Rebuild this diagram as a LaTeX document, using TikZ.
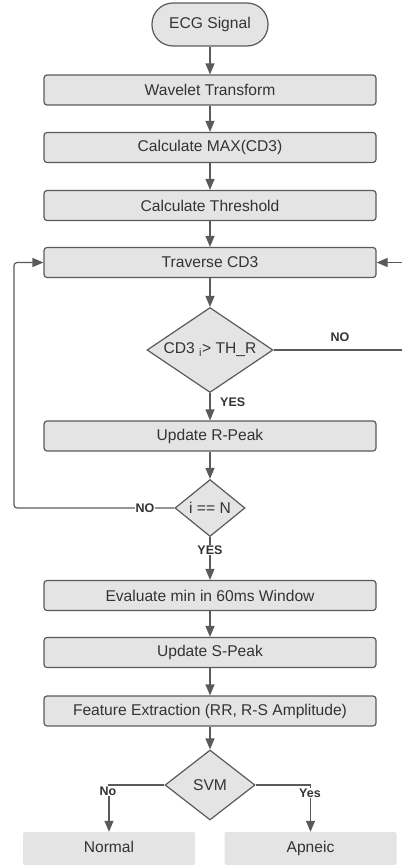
\documentclass[tikz,border=0pt]{standalone}
\usepackage{fontspec}
\setmainfont{Liberation Sans}
\usetikzlibrary{arrows.meta,shapes.geometric}
\definecolor{boxfill}{HTML}{E4E4E4}
\definecolor{boxline}{HTML}{5A5A5A}
\definecolor{txt}{HTML}{333333}

\begin{document}
\begin{tikzpicture}[x=1pt,y=-1pt,
    >={Triangle[width=9pt,length=11pt]},
    txtfont/.style={text=txt,font=\fontsize{15.6}{18}\selectfont},
    box/.style={draw=boxline,fill=boxfill,line width=1.2pt,rounded corners=3pt,
        minimum width=332pt,minimum height=30pt,inner sep=0pt,txtfont},
    term/.style={box,rounded corners=21pt,minimum width=116pt,minimum height=43pt},
    cond/.style={diamond,draw=boxline,fill=boxfill,line width=1.2pt,inner sep=0pt,txtfont},
    leaf/.style={fill=boxfill,rounded corners=2pt,minimum width=172pt,minimum height=33pt,
        inner sep=0pt,text height=11pt,text depth=3pt,txtfont},
    lbl/.style={text=txt,inner sep=1pt,font=\bfseries\fontsize{12.5}{14}\selectfont},
    flow/.style={->,draw=boxline,line width=1.2pt}]
    \useasboundingbox (0,0) rectangle (402,865);

    \node[term] (ecg) at (210,24.5) {ECG Signal};
    \node[box] (wt) at (210,90) {Wavelet Transform};
    \node[box] (mx) at (210,147.5) {Calculate MAX(CD3)};
    \node[box] (th) at (210,205.5) {Calculate Threshold};
    \node[box] (tr) at (210,262.5) {Traverse CD3};
    \node[cond,minimum width=126pt,minimum height=85pt,aspect=1.48] (cmp) at (210,350)
        {CD3 \textsubscript{i}> TH\_R};
    \node[box] (rp) at (210,436) {Update R-Peak};
    \node[cond,minimum width=70pt,minimum height=57pt,aspect=1.23] (chk) at (210,508) {i == N};
    \node[box] (ev) at (210,595.5) {Evaluate min in 60ms Window};
    \node[box] (sp) at (210,652.5) {Update S-Peak};
    \node[box] (fe) at (210,711) {Feature Extraction (RR, R-S Amplitude)};
    \node[cond,minimum width=90pt,minimum height=70pt,aspect=1.29] (svm) at (210,785) {SVM};
    \node[leaf] (nor) at (109,848.5) {Normal};
    \node[leaf] (apn) at (310.5,848.5) {Apneic};

    \coordinate (rin) at (402,262.5);
    \coordinate (rout) at (402,350);
    \coordinate (back) at (14,508);

    \draw[flow] (ecg)--(wt);
    \draw[flow] (wt)--(mx);
    \draw[flow] (mx)--(th);
    \draw[flow] (th)--(tr);
    \draw[flow] (tr)--(cmp);
    \draw[flow] (rin)--(tr.east);
    \draw[flow,-] (cmp.east)--(rout);
    \draw[flow] (cmp)--(rp);
    \draw[flow] (rp)--(chk);
    \draw[flow,rounded corners=3pt] (chk.west)--(back)|-(tr.west);
    \draw[flow] (chk)--(ev);
    \draw[flow] (ev)--(sp);
    \draw[flow] (sp)--(fe);
    \draw[flow] (fe)--(svm);
    \draw[flow] (svm.west)-|(nor.north);
    \draw[flow] (svm.east)-|(apn.north);

    \node[lbl] (no1) at (340,337) {NO};
    \node[lbl,anchor=west] (yes1) at (219,402) {YES};
    \node[lbl,fill=white] (no2) at (145,508) {NO};
    \node[lbl,fill=white] (yes2) at (210,550) {YES};
    \node[lbl,fill=white] (no3) at (108,791) {No};
    \node[lbl,fill=white] (yes3) at (310,793) {Yes};
\end{tikzpicture}
\end{document}
